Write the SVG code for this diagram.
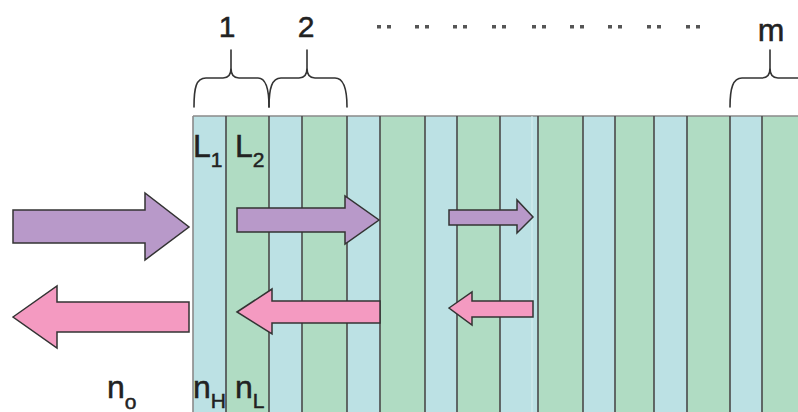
<svg xmlns="http://www.w3.org/2000/svg" width="798" height="412" viewBox="0 0 798 412">
<style>
.b{fill:#bce1e4}
.g{fill:#b0dcc3}
.sep{stroke:#4a4a4a;stroke-width:1.6}
.brace{fill:none;stroke:#333;stroke-width:1.6;stroke-linecap:round}
.pu{fill:#b899c9;stroke:#333;stroke-width:1.5;stroke-linejoin:miter}
.pk{fill:#f49ac1;stroke:#333;stroke-width:1.5;stroke-linejoin:miter}
text{font-family:"Liberation Sans",Arial,sans-serif;fill:#222;stroke:#222;stroke-width:0.5}
.big{font-size:32px}
.sub{font-size:21px}
.num{font-size:30px}
.dot{fill:#555}
</style>
<rect width="798" height="412" fill="#fff"/>
<g id="layers">
<rect class="b" x="193" y="116" width="33" height="296"/>
<rect class="g" x="226" y="116" width="43" height="296"/>
<rect class="b" x="269" y="116" width="33" height="296"/>
<rect class="g" x="302" y="116" width="45" height="296"/>
<rect class="b" x="347" y="116" width="33" height="296"/>
<rect class="g" x="380" y="116" width="45" height="296"/>
<rect class="b" x="425" y="116" width="32" height="296"/>
<rect class="g" x="457" y="116" width="43" height="296"/>
<rect class="b" x="500" y="116" width="38" height="296"/>
<rect class="g" x="538" y="116" width="45" height="296"/>
<rect class="b" x="583" y="116" width="32" height="296"/>
<rect class="g" x="615" y="116" width="39" height="296"/>
<rect class="b" x="654" y="116" width="33" height="296"/>
<rect class="g" x="687" y="116" width="43" height="296"/>
<rect class="b" x="730" y="116" width="32" height="296"/>
<rect class="g" x="762" y="116" width="36" height="296"/>
<path d="M193,116V412M193,116H798" stroke="#8a8a8a" stroke-width="1.6" fill="none"/>
<path class="sep" d="M226,116V412M269,116V412M302,116V412M347,116V412M380,116V412M425,116V412M457,116V412M500,116V412M538,116V412M583,116V412M615,116V412M654,116V412M687,116V412M730,116V412M762,116V412"/>
<path d="M532,116V412" stroke="#d8eef0" stroke-width="1"/>
</g>
<g id="braces">
<path class="brace" d="M194,107C194,88 196,78 206,78H223C228,78 231,75 231,68V50M231,68C231,75 234,78 239,78H258C266,78 269,88 269,107"/>
<path class="brace" d="M269,107C269,88 272,78 281,78H299C304,78 307,75 307,68V50M307,68C307,75 310,78 315,78H335C343,78 347,88 347,107"/>
<path class="brace" d="M730,107C730,88 733,78 742,78H762C767,78 770,75 770,68V50M770,68C770,75 773,78 778,78H800"/>
</g>
<g id="dots">
<rect class="dot" x="377" y="25" width="4" height="3.5"/><rect class="dot" x="387" y="25" width="4" height="3.5"/>
<rect class="dot" x="415" y="25" width="4" height="3.5"/><rect class="dot" x="425" y="25" width="4" height="3.5"/>
<rect class="dot" x="453" y="25" width="4" height="3.5"/><rect class="dot" x="463" y="25" width="4" height="3.5"/>
<rect class="dot" x="492" y="25" width="4" height="3.5"/><rect class="dot" x="502" y="25" width="4" height="3.5"/>
<rect class="dot" x="532" y="25" width="4" height="3.5"/><rect class="dot" x="542" y="25" width="4" height="3.5"/>
<rect class="dot" x="570" y="25" width="4" height="3.5"/><rect class="dot" x="580" y="25" width="4" height="3.5"/>
<rect class="dot" x="608" y="25" width="4" height="3.5"/><rect class="dot" x="618" y="25" width="4" height="3.5"/>
<rect class="dot" x="647" y="25" width="4" height="3.5"/><rect class="dot" x="657" y="25" width="4" height="3.5"/>
<rect class="dot" x="686" y="25" width="4" height="3.5"/><rect class="dot" x="696" y="25" width="4" height="3.5"/>
</g>
<g id="connectors">
<polygon class="pu" points="13,210 145,210 145,193 189,227 145,260 145,243 13,243"/>
<polygon class="pk" points="13,317 57,286 57,302 189,302 189,332 57,332 57,348"/>
<polygon class="pu" points="237,208 345,208 345,196 379,220 345,244 345,232 237,232"/>
<polygon class="pu" points="449,210 517,210 517,200 533,217 517,233 517,225 449,225"/>
<polygon class="pk" points="237,312 272,289 272,301 380,301 380,323 272,323 272,334"/>
<polygon class="pk" points="449,308 472,292 472,301 533,301 533,317 472,317 472,325"/>
</g>
<g id="labels">
<text class="num" x="227" y="37" text-anchor="middle">1</text>
<text class="num" x="306" y="37" text-anchor="middle">2</text>
<text class="big" x="771" y="41" text-anchor="middle">m</text>
<text x="193" y="157"><tspan class="big">L</tspan><tspan class="sub" dy="10">1</tspan></text>
<text x="235" y="157"><tspan class="big">L</tspan><tspan class="sub" dy="10">2</tspan></text>
<text x="193" y="398"><tspan class="big">n</tspan><tspan class="sub" dy="10">H</tspan></text>
<text x="235" y="398"><tspan class="big">n</tspan><tspan class="sub" dy="10">L</tspan></text>
<text x="107" y="398"><tspan class="big">n</tspan><tspan class="sub" dy="11">o</tspan></text>
</g>
</svg>
